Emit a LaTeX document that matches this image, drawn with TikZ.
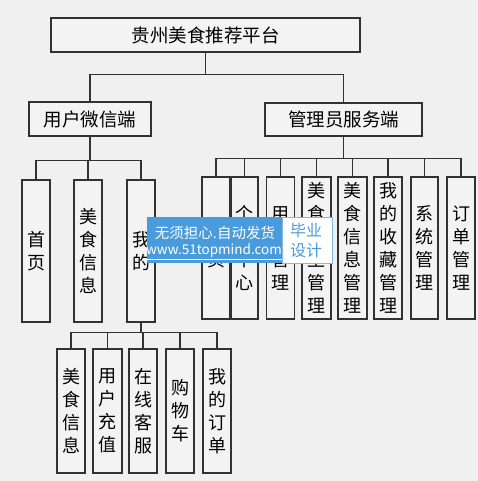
\documentclass[tikz,border=0pt]{standalone}
\usepackage{fontspec}
\newfontfamily\cjk{Noto Sans CJK SC}
\usetikzlibrary{calc}
\definecolor{bgc}{RGB}{240,240,240}
\definecolor{boxc}{RGB}{243,243,243}
\definecolor{linec}{RGB}{50,50,50}
\definecolor{wmblue}{RGB}{74,155,219}
\tikzset{
  box/.style={draw=linec, fill=boxc, line width=1.2pt, inner sep=0pt, align=center,
    font=\cjk\fontsize{18}{23}\selectfont},
  hbox/.style={box, minimum height=34pt, font=\cjk\fontsize{18.5}{23}\selectfont},
  vbox/.style={box, minimum width=28pt},
  ubox/.style={vbox, minimum height=142pt},
  abox/.style={vbox, minimum height=142pt},
  bbox/.style={vbox, minimum height=124pt},
  conn/.style={draw=linec, line width=1.2pt},
}
\begin{document}
\begin{tikzpicture}[x=1pt,y=-1pt]
\fill[bgc] (0,0) rectangle (478,481);
\useasboundingbox (0,0) rectangle (478,481);
% top levels
\node[hbox, minimum width=309pt] (root) at (205.5,35) {贵州美食推荐平台};
\node[hbox, minimum width=122pt] (u) at (90,119) {用户微信端};
\node[hbox, minimum width=157pt, minimum height=33pt] (a) at (343.5,119.5) {管理员服务端};
% user side
\node[ubox] (u1) at (36,251) {首\\页};
\node[ubox] (u2) at (88,251) {美\\食\\信\\息};
\node[ubox] (u3) at (141,251) {我\\的};
% admin side
\node[abox] (a1) at (216,248) {首\\页};
\node[abox, minimum width=27pt] (a2) at (244.5,248) {个\\人\\中\\心};
\node[abox] (a3) at (280.5,248) {用\\户\\管\\理};
\node[abox, minimum width=29pt] (a4) at (316.5,248) {美\\食\\类\\型\\管\\理};
\node[abox, minimum width=29pt] (a5) at (352.5,248) {美\\食\\信\\息\\管\\理};
\node[abox] (a6) at (388,248) {我\\的\\收\\藏\\管\\理};
\node[abox, minimum width=27pt] (a7) at (424.5,248) {系\\统\\管\\理};
\node[abox] (a8) at (461,248) {订\\单\\管\\理};
% bottom
\node[bbox] (b1) at (71,411) {美\\食\\信\\息};
\node[bbox, minimum width=29pt] (b2) at (107.5,411) {用\\户\\充\\值};
\node[bbox] (b3) at (143,411) {在\\线\\客\\服};
\node[bbox] (b4) at (180,411) {购\\物\\车};
\node[bbox] (b5) at (217,411) {我\\的\\订\\单};
% connectors
\foreach \c in {u,a} \draw[conn] (root.south) -- ++(0,22) -| (\c.north);
\foreach \c in {u1,u2,u3} \draw[conn] (u.south) -- ++(0,24) -| (\c.north);
\foreach \c in {a1,a2,a3,a4,a5,a6,a7,a8} \draw[conn] (a.south) -- ++(0,22) -| (\c.north);
\foreach \c in {b1,b2,b3,b4,b5} \draw[conn] (u3.south) -- ++(0,10) -| (\c.north);
% watermark
\node[fill=wmblue, minimum width=135pt, minimum height=46pt, inner sep=0pt] (wm) at (214.5,240) {};
\node[fill=white, draw=wmblue!70, line width=1pt, minimum width=50pt, minimum height=46pt, inner sep=0pt] (wb) at (307,240) {};
\node[text=white, font=\cjk\fontsize{14.5}{16}\selectfont, inner sep=0pt] (wt1) at (215,233) {无须担心.自动发货};
\node[text=white, font=\cjk\fontsize{13.5}{16}\selectfont, inner sep=0pt] (wt2) at (214,252) {\underline{www.51topmind.com}};
\node[text=wmblue, font=\cjk\fontsize{16}{20}\selectfont, inner sep=0pt, align=center] (wt3) at (306,240) {毕业\\设计};
\end{tikzpicture}
\end{document}
